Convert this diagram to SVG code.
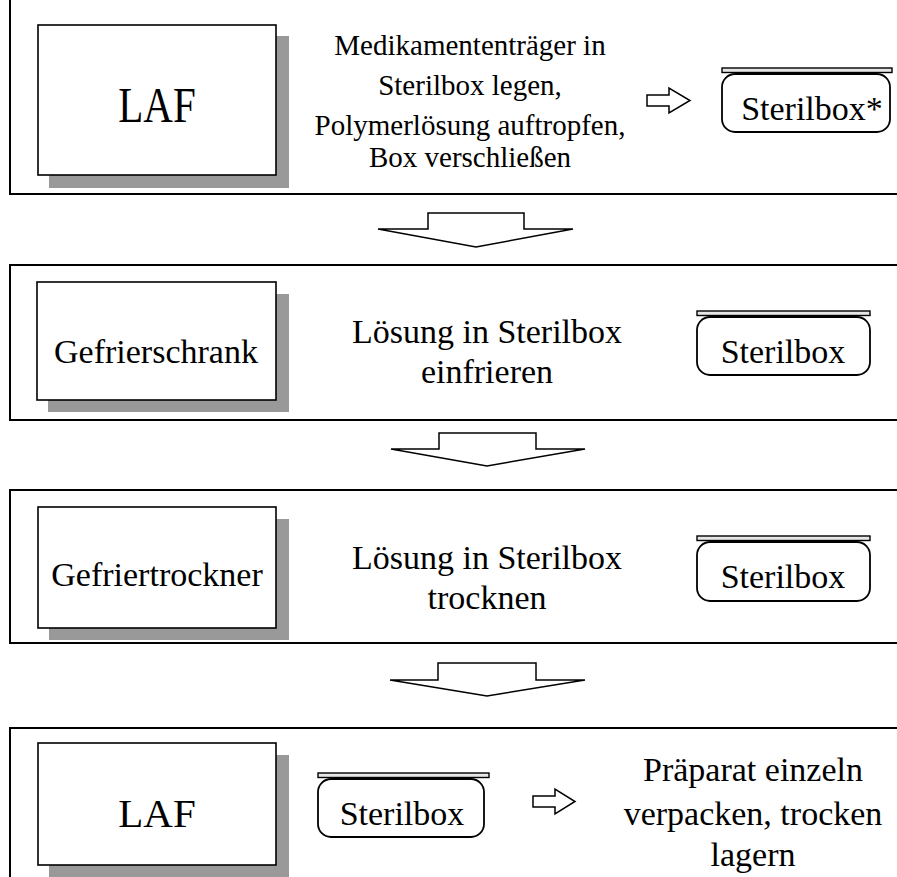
<svg xmlns="http://www.w3.org/2000/svg" width="897" height="877" viewBox="0 0 897 877">
<style>
text{font-family:"Liberation Serif","Times New Roman",serif;fill:#000;text-anchor:middle}
.panel{fill:none;stroke:#000;stroke-width:2}
.shadow{fill:#999}
.box{fill:#fff;stroke:#000;stroke-width:1.6}
.lid{fill:#e6e6e6;stroke:#000;stroke-width:1.4}
.sbox{fill:#fff;stroke:#000;stroke-width:1.8}
.blk{fill:#fff;stroke:#000;stroke-width:1.5;stroke-linejoin:miter}
.t34{font-size:34px}
.t29{font-size:29px}
</style>
<rect width="897" height="877" fill="#fff"/>

<g id="panel1">
  <rect class="panel" x="10" y="-10" width="900" height="204"/>
  <g id="laf1">
    <rect class="shadow" x="49" y="36" width="240" height="152"/>
    <rect class="box" x="38" y="25" width="238" height="150"/>
    <text class="t34" x="157" y="122" style="font-size:41px" transform="translate(0,122) scale(1,1.22) translate(0,-122)">LAF</text>
  </g>
  <g id="step1">
    <text class="t29" x="470" y="55">Medikamententräger in</text>
    <text class="t29" x="470" y="95">Sterilbox legen,</text>
    <text class="t29" x="470" y="135">Polymerlösung auftropfen,</text>
    <text class="t29" x="470" y="167">Box verschließen</text>
  </g>
  <g id="sterilbox1">
    <rect class="lid" x="722" y="68" width="170" height="4.5"/>
    <rect class="sbox" x="722" y="74" width="168" height="58" rx="13"/>
    <text class="t34" x="812" y="120">Sterilbox*</text>
  </g>
</g>

<g id="panel2">
  <rect class="panel" x="10" y="265" width="900" height="155"/>
  <g id="gefrierschrank">
    <rect class="shadow" x="48" y="294" width="241" height="118"/>
    <rect class="box" x="37" y="282" width="239" height="118"/>
    <text class="t34" x="156" y="363">Gefrierschrank</text>
  </g>
  <g id="step2">
    <text class="t34" x="487" y="343">Lösung in Sterilbox</text>
    <text class="t34" x="487" y="383">einfrieren</text>
  </g>
  <g id="sterilbox2">
    <rect class="lid" x="697" y="311" width="173" height="4.5"/>
    <rect class="sbox" x="697" y="317" width="173" height="58" rx="13"/>
    <text class="t34" x="783" y="363">Sterilbox</text>
  </g>
</g>

<g id="panel3">
  <rect class="panel" x="10" y="490" width="900" height="153"/>
  <g id="gefriertrockner">
    <rect class="shadow" x="49" y="519" width="240" height="121"/>
    <rect class="box" x="38" y="507" width="238" height="121"/>
    <text class="t34" x="157" y="586">Gefriertrockner</text>
  </g>
  <g id="step3">
    <text class="t34" x="487" y="569">Lösung in Sterilbox</text>
    <text class="t34" x="487" y="609">trocknen</text>
  </g>
  <g id="sterilbox3">
    <rect class="lid" x="697" y="536" width="173" height="4.5"/>
    <rect class="sbox" x="697" y="542" width="173" height="59" rx="13"/>
    <text class="t34" x="783" y="588">Sterilbox</text>
  </g>
</g>

<g id="panel4">
  <rect class="panel" x="10" y="728" width="900" height="160"/>
  <g id="laf2">
    <rect class="shadow" x="49" y="755" width="240" height="130"/>
    <rect class="box" x="38" y="743" width="238" height="122"/>
    <text class="t34" x="157" y="827" style="font-size:41px">LAF</text>
  </g>
  <g id="sterilbox4">
    <rect class="lid" x="318" y="773" width="171" height="4.5"/>
    <rect class="sbox" x="318" y="779" width="166" height="58" rx="13"/>
    <text class="t34" x="402" y="825">Sterilbox</text>
  </g>
  <g id="step4">
    <text class="t34" x="753" y="781">Präparat einzeln</text>
    <text class="t34" x="753" y="825">verpacken, trocken</text>
    <text class="t34" x="753" y="866">lagern</text>
  </g>
</g>

<g id="connectors">
  <polygon class="blk" points="428,213 524,213 524,229 573,229 476,247 378,229 428,229"/>
  <polygon class="blk" points="439,433 536,433 536,449 585,449 487,466 391,449 439,449"/>
  <polygon class="blk" points="438,663 536,663 536,680 585,680 487,696 390,680 438,680"/>
  <polygon class="blk" points="647,95 669,95 669,88 690,100.5 669,113 669,106 647,106"/>
  <polygon class="blk" points="533,796 555,796 555,789 575,801.5 555,814 555,807 533,807"/>
</g>
</svg>
